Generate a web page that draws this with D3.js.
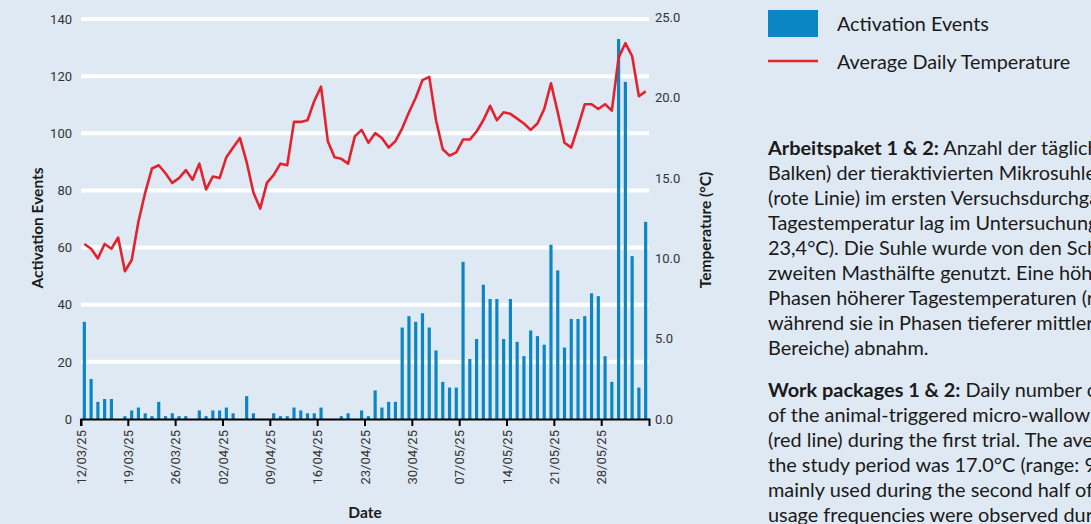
<!DOCTYPE html>
<html>
<head>
<meta charset="utf-8">
<script src="https://cdn.jsdelivr.net/npm/d3@7"></script>
<style>
  html, body { margin: 0; padding: 0; background: #dfe9f3; overflow: hidden; }
  .tick text { font-family: "Liberation Sans Narrow", Roboto, sans-serif; font-size: 13px; fill: #333; }
  .title { font-family: Lato, sans-serif; font-weight: bold; font-size: 15.5px; fill: #1a1a1a; }
  .legend { font-family: Lato, sans-serif; font-size: 19.8px; fill: #1a1a1a; }
  .para { font-family: Lato, sans-serif; font-size: 19.9px; fill: #1a1a1a; }
</style>
</head>
<body>
<svg id="chart" width="1091" height="524"></svg>
<script>
// Dates (one bar per day), activation counts and mean daily temperature
var dates = [
  "12/03/25","13/03/25","14/03/25","15/03/25","16/03/25","17/03/25","18/03/25","19/03/25","20/03/25","21/03/25",
  "22/03/25","23/03/25","24/03/25","25/03/25","26/03/25","27/03/25","28/03/25","29/03/25","30/03/25","31/03/25",
  "01/04/25","02/04/25","03/04/25","04/04/25","05/04/25","06/04/25","07/04/25","08/04/25","09/04/25","10/04/25",
  "11/04/25","12/04/25","13/04/25","14/04/25","15/04/25","16/04/25","17/04/25","18/04/25","19/04/25","20/04/25",
  "21/04/25","22/04/25","23/04/25","24/04/25","25/04/25","26/04/25","27/04/25","28/04/25","29/04/25","30/04/25",
  "01/05/25","02/05/25","03/05/25","04/05/25","05/05/25","06/05/25","07/05/25","08/05/25","09/05/25","10/05/25",
  "11/05/25","12/05/25","13/05/25","14/05/25","15/05/25","16/05/25","17/05/25","18/05/25","19/05/25","20/05/25",
  "21/05/25","22/05/25","23/05/25","24/05/25","25/05/25","26/05/25","27/05/25","28/05/25","29/05/25","30/05/25",
  "31/05/25","01/06/25","02/06/25","03/06/25"
];
var events = [
  34, 14, 6, 7, 7, 0, 1, 3, 4, 2,
  1, 6, 1, 2, 1, 1, 0, 3, 1, 3,
  3, 4, 2, 0, 8, 2, 0, 0, 2, 1,
  1, 4, 3, 2, 2, 4, 0, 0, 1, 2,
  0, 3, 1, 10, 4, 6, 6, 32, 36, 34,
  37, 32, 24, 13, 11, 11, 55, 21, 28, 47,
  42, 42, 28, 42, 27, 22, 31, 29, 26, 61,
  52, 25, 35, 35, 36, 44, 43, 22, 13, 133,
  118, 57, 11, 69
];
var temps = [
  10.9, 10.6, 10.0, 10.9, 10.6, 11.3, 9.2, 9.9, 12.3, 14.1,
  15.6, 15.8, 15.3, 14.7, 15.0, 15.5, 14.9, 15.9, 14.3, 15.1,
  15.0, 16.3, 16.9, 17.5, 16.0, 14.1, 13.1, 14.7, 15.2, 15.9,
  15.8, 18.5, 18.5, 18.6, 19.8, 20.7, 17.3, 16.3, 16.2, 15.9,
  17.6, 18.0, 17.2, 17.8, 17.5, 16.9, 17.3, 18.1, 19.1, 20.0,
  21.1, 21.3, 18.6, 16.8, 16.4, 16.6, 17.4, 17.4, 17.9, 18.6,
  19.5, 18.6, 19.1, 19.0, 18.7, 18.4, 18.0, 18.4, 19.3, 20.9,
  19.1, 17.2, 16.9, 18.2, 19.6, 19.6, 19.3, 19.6, 19.2, 22.5,
  23.4, 22.6, 20.1, 20.4
];
var dateTicks = ["12/03/25","19/03/25","26/03/25","02/04/25","09/04/25","16/04/25",
                 "23/04/25","30/04/25","07/05/25","14/05/25","21/05/25","28/05/25"];
var eventTicks = [0, 20, 40, 60, 80, 100, 120, 140];
var tempTicks = [0, 5, 10, 15, 20, 25];

var paraDe = [
  ["Arbeitspaket 1 & 2:", " Anzahl der täglichen Aktivierungen (blaue"],
  ["", "Balken) der tieraktivierten Mikrosuhle und mittlere Tagestemperatur"],
  ["", "(rote Linie) im ersten Versuchsdurchgang. Die durchschnittliche"],
  ["", "Tagestemperatur lag im Untersuchungszeitraum bei 17,0°C (9,2 –"],
  ["", "23,4°C). Die Suhle wurde von den Schweinen vor allem in der"],
  ["", "zweiten Masthälfte genutzt. Eine höhere Nutzung zeigte sich in"],
  ["", "Phasen höherer Tagestemperaturen (rote Linie über 20°C),"],
  ["", "während sie in Phasen tieferer mittlerer Temperaturen (blaue"],
  ["", "Bereiche) abnahm."]
];
var paraEn = [
  ["Work packages 1 & 2:", " Daily number of activations (blue bars)"],
  ["", "of the animal-triggered micro-wallow and mean daily temperature"],
  ["", "(red line) during the first trial. The average daily temperature during"],
  ["", "the study period was 17.0°C (range: 9.2–23.4°C). The wallow was"],
  ["", "mainly used during the second half of the fattening period. Higher"],
  ["", "usage frequencies were observed during phases of higher temperatures"]
];

var barColor = "#0b86c4", lineColor = "#e3222f";
var plotL = 81, plotR = 649, plotT = 19, plotB = 419;

var svg = d3.select("#chart");

var x = d3.scaleBand().domain(dates).range([plotL, plotR]).paddingInner(0.53).paddingOuter(0.26);
var yE = d3.scaleLinear().domain([0, 140]).range([plotB, plotT]);
var yT = d3.scaleLinear().domain([0, 25]).range([plotB, 17.5]);
var tickShift = -(x.bandwidth() / 2 + x.step() * 0.265);

// white gridlines on the event scale
svg.append("g")
  .selectAll("line")
  .data(eventTicks.filter(function(d) { return d > 0; }))
  .enter().append("line")
  .attr("x1", plotL).attr("x2", plotR)
  .attr("y1", function(d) { return yE(d); })
  .attr("y2", function(d) { return yE(d); })
  .attr("stroke", "#fff")
  .attr("stroke-width", 4);

// bars
svg.append("g")
  .selectAll("rect")
  .data(events)
  .enter().append("rect")
  .attr("x", function(d, i) { return x(dates[i]); })
  .attr("y", function(d) { return yE(d); })
  .attr("width", x.bandwidth())
  .attr("height", function(d) { return plotB - yE(d); })
  .attr("fill", barColor);

// temperature line
var line = d3.line()
  .x(function(d, i) { return x(dates[i]) + x.bandwidth() / 2; })
  .y(function(d) { return yT(d); });
svg.append("path")
  .datum(temps)
  .attr("d", line)
  .attr("fill", "none")
  .attr("stroke", lineColor)
  .attr("stroke-width", 2.6)
  .attr("stroke-linejoin", "round");

// left axis (labels only)
var gl = svg.append("g")
  .attr("transform", "translate(" + plotL + ",0)")
  .call(d3.axisLeft(yE).tickValues(eventTicks).tickSize(0).tickPadding(9));
gl.select(".domain").remove();

// right axis (labels only)
var gr = svg.append("g")
  .attr("transform", "translate(" + plotR + ",0)")
  .call(d3.axisRight(yT).tickValues(tempTicks).tickFormat(d3.format(".1f")).tickSize(0).tickPadding(6));
gr.select(".domain").remove();

// bottom axis
var gx = svg.append("g")
  .attr("transform", "translate(0," + plotB + ")")
  .call(d3.axisBottom(x).tickValues(dateTicks).tickSize(7).tickSizeOuter(7));
gx.selectAll(".tick line")
  .attr("transform", "translate(" + tickShift + ",0)")
  .attr("stroke", "#000").attr("stroke-width", 2);
gx.select(".domain").attr("stroke", "#000").attr("stroke-width", 2);
gx.selectAll(".tick text")
  .attr("transform", "rotate(-90)")
  .attr("text-anchor", "end")
  .attr("x", -11)
  .attr("y", tickShift)
  .attr("dy", "0.35em");

// axis titles
svg.append("text").attr("class", "title")
  .attr("transform", "translate(43,228) rotate(-90)")
  .attr("text-anchor", "middle")
  .text("Activation Events");
svg.append("text").attr("class", "title")
  .attr("transform", "translate(711,230) rotate(-90)")
  .attr("text-anchor", "middle")
  .text("Temperature (°C)");
svg.append("text").attr("class", "title")
  .attr("x", (plotL + plotR) / 2).attr("y", 518)
  .attr("text-anchor", "middle")
  .text("Date");

// legend
svg.append("rect").attr("x", 768).attr("y", 10).attr("width", 50).attr("height", 27).attr("fill", barColor);
svg.append("text").attr("class", "legend").attr("x", 837).attr("y", 31).text("Activation Events");
svg.append("line").attr("x1", 768).attr("x2", 818).attr("y1", 61).attr("y2", 61)
  .attr("stroke", lineColor).attr("stroke-width", 2.6);
svg.append("text").attr("class", "legend").attr("x", 837).attr("y", 69).text("Average Daily Temperature");

// caption paragraphs
function para(lines, y0) {
  lines.forEach(function(l, i) {
    var t = svg.append("text").attr("class", "para").attr("x", 768).attr("y", y0 + i * 25);
    if (l[0]) t.append("tspan").attr("font-weight", "bold").text(l[0]);
    t.append("tspan").text(l[1]);
  });
}
para(paraDe, 155);
para(paraEn, 397);
</script>
</body>
</html>
